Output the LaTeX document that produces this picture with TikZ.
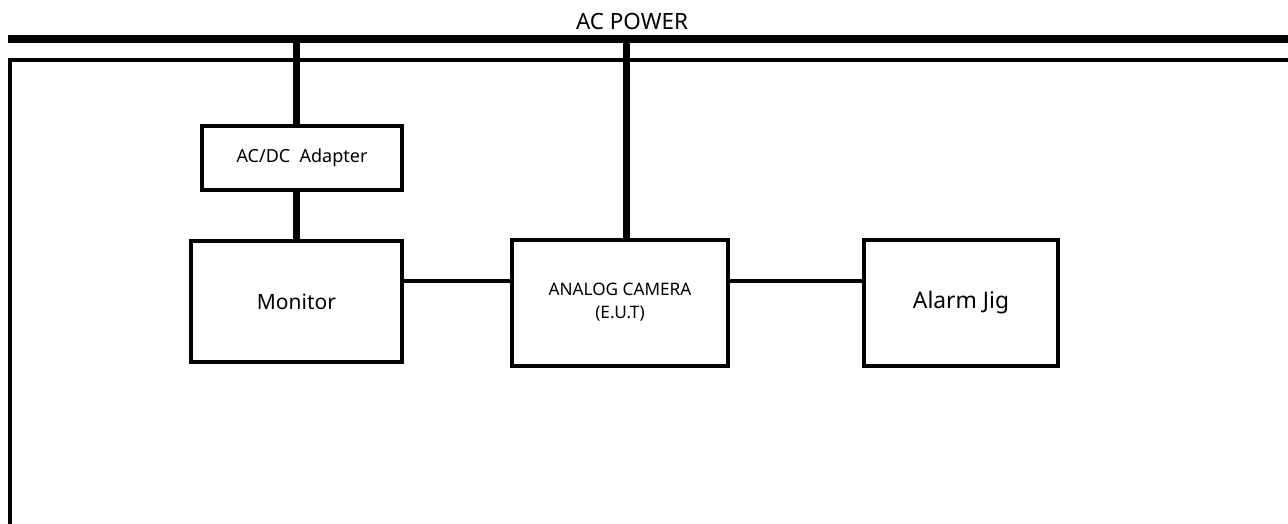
\documentclass[tikz,border=0pt]{standalone}
\usepackage{fontspec}
\setmainfont{Noto Sans}

\begin{document}
\begin{tikzpicture}[x=1pt,y=-1pt,
    box/.style={draw,line width=4pt,inner sep=0pt,align=center},
    bus/.style={line width=7.5pt},
    drop/.style={line width=7pt},
    sig/.style={line width=3.5pt},
    ret/.style={line width=4pt,line join=miter}]
  % page frame
  \useasboundingbox (0,0) rectangle (1288,524);

  % Define the power rails
  \coordinate (busL) at (8,39);
  \coordinate (busR) at (1288,39);
  \coordinate (retR) at (1288,60);
  \coordinate (retC) at (9.5,60);
  \coordinate (retB) at (9.5,524);
  \coordinate (camtap) at (626,39);
  \coordinate (sigrow) at (0,281);
  \node[font=\fontsize{22.4}{26}\selectfont] (acpower) at (632,21) {AC POWER};

  % Define the units
  \node[box,minimum width=200pt,minimum height=63pt,font=\fontsize{18}{20}\selectfont] (adapter) at (302,158) {AC/DC\ \ Adapter};
  \node[box,minimum width=211pt,minimum height=121pt,font=\fontsize{21}{24}\selectfont] (monitor) at (296.5,301.5) {Monitor};
  \node[box,minimum width=216pt,minimum height=126pt,font=\fontsize{17.2}{23}\selectfont] (camera) at (620,302.5) {ANALOG CAMERA\\(E.U.T)};
  \node[box,minimum width=194pt,minimum height=126pt,font=\fontsize{22.8}{24}\selectfont] (alarm) at (961,302.5) {Alarm Jig};

  % Draw the rails
  \draw[bus] (busL) -- (busR);
  \draw[ret] (retR) -- (retC) -- (retB);

  % Draw the power feeds
  \draw[drop] (monitor.north |- busL) -- (monitor.north |- adapter.north);
  \draw[drop] (monitor.north |- adapter.south) -- (monitor.north);
  \draw[drop] (camtap) -- (camtap |- camera.north);

  % Draw the signal cables
  \draw[sig] (monitor.east |- sigrow) -- (camera.west |- sigrow);
  \draw[sig] (camera.east |- sigrow) -- (alarm.west |- sigrow);
\end{tikzpicture}
\end{document}
